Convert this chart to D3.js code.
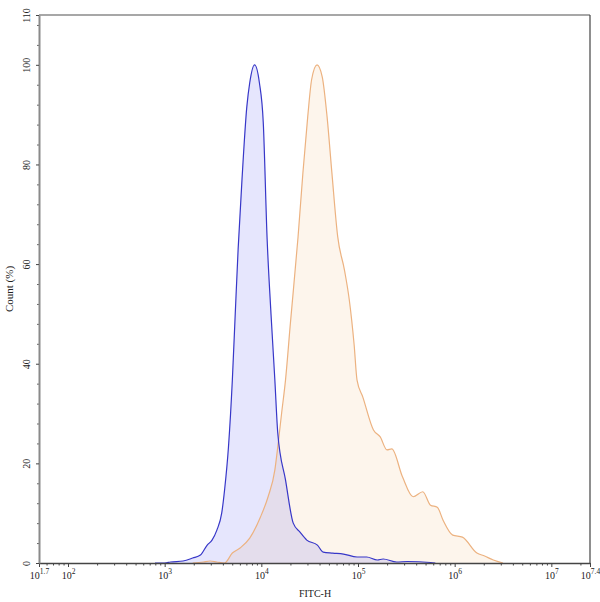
<!DOCTYPE html>
<html>
<head>
<meta charset="utf-8">
<script src="https://cdn.jsdelivr.net/npm/d3@7"></script>
<style>
  body { margin: 0; background: #fff; }
  text { font-family: "Liberation Serif", "Times New Roman", serif; }
</style>
</head>
<body>
<svg id="chart"></svg>
<script>
// FITC-H exponent (log10) and count (%)
const blueExp   = [2.9, 3.0, 3.06, 3.19, 3.29, 3.37, 3.44, 3.49, 3.54, 3.59, 3.62, 3.66, 3.70, 3.73, 3.76, 3.80, 3.85, 3.88, 3.93, 3.98, 4.02, 4.06, 4.10, 4.14, 4.17, 4.25, 4.33, 4.40, 4.47, 4.58, 4.64, 4.74, 4.85, 4.99, 5.09, 5.20, 5.26, 5.40, 5.51, 5.75, 5.80];
const blueCount = [0, 0, 0.2, 0.4, 1.0, 1.6, 3.6, 4.6, 6.6, 10, 14.7, 23.3, 36.7, 50, 63, 77, 91.6, 96.4, 100, 96.4, 88.4, 65, 50, 36.7, 26.1, 16.7, 8.0, 6.2, 4.6, 3.6, 2.2, 2.0, 1.8, 1.2, 1.2, 0.6, 0.8, 0.2, 0.3, 0.1, 0];

const orangeExp   = [3.29, 3.40, 3.47, 3.54, 3.62, 3.70, 3.78, 3.88, 3.99, 4.07, 4.14, 4.17, 4.21, 4.25, 4.30, 4.38, 4.43, 4.48, 4.52, 4.576, 4.63, 4.68, 4.73, 4.79, 4.86, 4.91, 4.96, 4.99, 5.05, 5.16, 5.23, 5.30, 5.35, 5.46, 5.57, 5.67, 5.75, 5.82, 5.88, 5.98, 6.08, 6.23, 6.31, 6.40, 6.50];
const orangeCount = [0, 0.2, 0.4, 0.2, 0, 2.0, 3.0, 5.0, 9.2, 13.3, 18.7, 23.3, 30.1, 36.7, 48, 65.5, 78.3, 89.6, 97.0, 100, 97.6, 89.6, 78.3, 65.5, 58.8, 52.8, 43.8, 36.7, 33.3, 26.7, 25.3, 22.7, 22.9, 17.3, 13.3, 14.3, 11.6, 11.2, 8.6, 5.6, 5.2, 2.0, 1.4, 0.6, 0];

const xMajorExp = [1.7, 2, 3, 4, 5, 6, 7, 7.4];
const yTicks = [0, 20, 40, 60, 80, 100, 110];

const width = 600, height = 602;
const marginLeft = 39, marginRight = 10, marginTop = 15, marginBottom = 39;

const svg = d3.select("#chart").attr("width", width).attr("height", height);

const x = d3.scaleLog()
    .domain([Math.pow(10, 1.7), Math.pow(10, 7.4)])
    .range([marginLeft, width - marginRight]);
const y = d3.scaleLinear()
    .domain([0, 110])
    .range([height - marginBottom, marginTop]);

const blue = blueExp.map((e, i) => [Math.pow(10, e), blueCount[i]]);
const orange = orangeExp.map((e, i) => [Math.pow(10, e), orangeCount[i]]);

const area = d3.area()
    .x(d => x(d[0]))
    .y0(y(0))
    .y1(d => y(d[1]))
    .curve(d3.curveMonotoneX);
const line = d3.line()
    .x(d => x(d[0]))
    .y(d => y(d[1]))
    .curve(d3.curveMonotoneX);

svg.append("path").datum(orange).attr("d", area)
    .attr("fill", "rgb(240,170,100)").attr("fill-opacity", 0.12);
svg.append("path").datum(blue).attr("d", area)
    .attr("fill", "rgb(80,80,240)").attr("fill-opacity", 0.14);
svg.append("path").datum(orange).attr("d", line)
    .attr("fill", "none").attr("stroke", "rgb(236,178,128)").attr("stroke-width", 1.2);
svg.append("path").datum(blue).attr("d", line)
    .attr("fill", "none").attr("stroke", "rgb(55,55,200)").attr("stroke-width", 1.2);

// frame: top and right
svg.append("line")
    .attr("x1", marginLeft).attr("x2", width - marginRight)
    .attr("y1", marginTop).attr("y2", marginTop)
    .attr("stroke", "#8a8a8a").attr("stroke-width", 1.5);
svg.append("line")
    .attr("x1", width - marginRight).attr("x2", width - marginRight)
    .attr("y1", marginTop).attr("y2", height - marginBottom)
    .attr("stroke", "#444").attr("stroke-width", 1.2);

// x minor ticks
const xMinor = [];
for (let k = 1; k <= 7; k++) {
    for (let m = 2; m <= 9; m++) {
        const v = m * Math.pow(10, k);
        if (v > x.domain()[0] && v < x.domain()[1]) xMinor.push(v);
    }
}
svg.append("g")
    .attr("transform", `translate(0,${height - marginBottom})`)
    .call(d3.axisBottom(x).tickValues(xMinor).tickSize(2.5).tickFormat(""))
    .call(g => g.select(".domain").remove())
    .selectAll("line").attr("stroke", "#444");

// x major axis
const gx = svg.append("g")
    .attr("transform", `translate(0,${height - marginBottom})`)
    .call(d3.axisBottom(x)
        .tickValues(xMajorExp.map(e => Math.pow(10, e)))
        .tickSize(4).tickSizeOuter(0).tickPadding(5)
        .tickFormat(""));
gx.select(".domain").attr("stroke", "#444").attr("stroke-width", 1.5);
gx.selectAll(".tick line").attr("stroke", "#444");
gx.selectAll(".tick").each(function(d) {
    const e = Math.round(Math.log10(d) * 10) / 10;
    const t = d3.select(this).append("text")
        .attr("y", 16).attr("fill", "#222")
        .attr("font-size", 10).attr("text-anchor", "middle");
    t.append("tspan").text("10");
    t.append("tspan").attr("dy", -5).attr("font-size", 7.5).text(e);
});

// y minor ticks
const yMinor = d3.range(4, 110, 4).filter(v => v % 20 !== 0);
svg.append("g")
    .attr("transform", `translate(${marginLeft},0)`)
    .call(d3.axisLeft(y).tickValues(yMinor).tickSize(2).tickFormat(""))
    .call(g => g.select(".domain").remove())
    .selectAll("line").attr("stroke", "#666");

// y major axis
const gy = svg.append("g")
    .attr("transform", `translate(${marginLeft},0)`)
    .call(d3.axisLeft(y).tickValues(yTicks).tickSize(3).tickSizeOuter(0).tickFormat(d3.format("d")));
gy.select(".domain").attr("stroke", "#8a8a8a").attr("stroke-width", 2);
gy.selectAll(".tick line").attr("stroke", "#444");
gy.selectAll(".tick text")
    .attr("font-size", 10).attr("fill", "#222")
    .attr("x", 0).attr("y", 0).attr("dy", 0)
    .attr("text-anchor", "middle")
    .attr("transform", "translate(-9,0) rotate(-90)");

// axis titles
svg.append("text")
    .attr("x", 315).attr("y", 597)
    .attr("text-anchor", "middle").attr("font-size", 10).attr("fill", "#222")
    .text("FITC-H");
svg.append("text")
    .attr("transform", `translate(13,${(marginTop + height - marginBottom) / 2}) rotate(-90)`)
    .attr("text-anchor", "middle").attr("font-size", 11).attr("fill", "#222")
    .text("Count (%)");
</script>
</body>
</html>
